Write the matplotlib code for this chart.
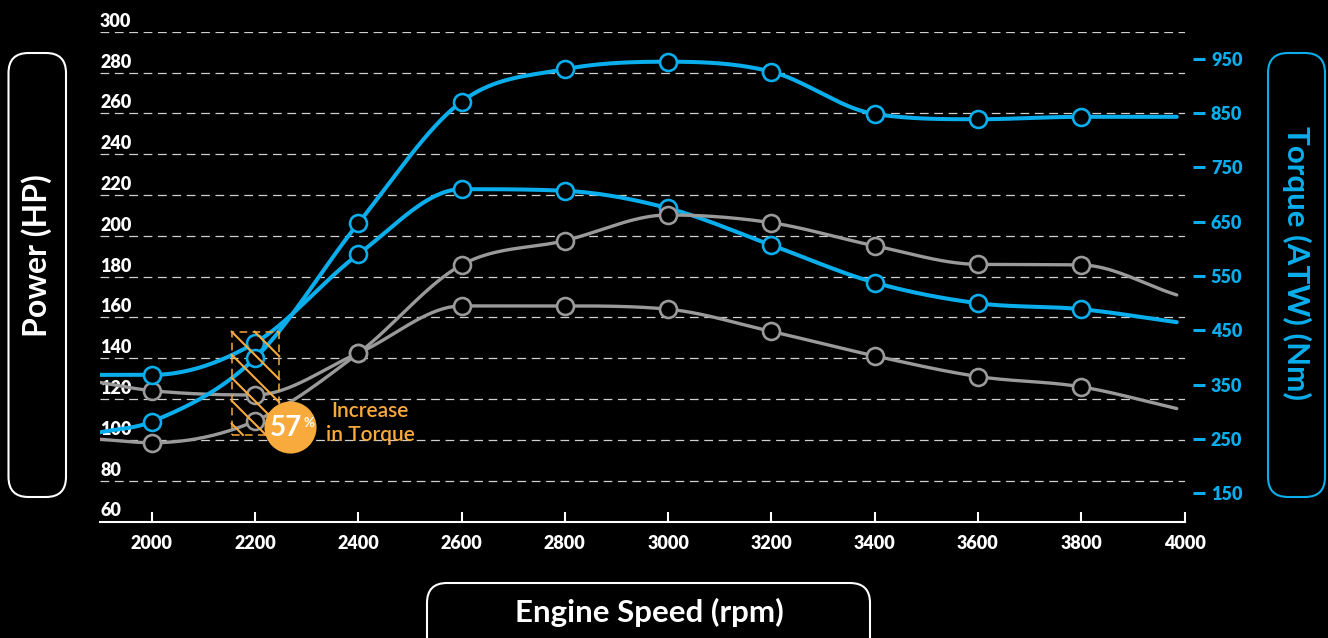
import numpy as np
import matplotlib
matplotlib.use("Agg")
import matplotlib.pyplot as plt
from matplotlib.patches import FancyBboxPatch, Rectangle
from matplotlib.lines import Line2D
from matplotlib.transforms import IdentityTransform, offset_copy, blended_transform_factory

plt.rcParams['font.family'] = ['Lato', 'DejaVu Sans']

# ---------------- data ----------------
rpm = [1900, 2000, 2200, 2400, 2600, 2800, 3000, 3200, 3400, 3600, 3800, 3985]
stock_power_hp = [100.3, 98.6, 109.2, 142.4, 185.7, 197.6, 210.2, 206.4, 195.1, 186.0, 185.7, 171.0]
tuned_power_hp = [103.7, 108.9, 140.0, 206.1, 265.7, 281.6, 285.3, 280.4, 259.7, 257.1, 258.3, 258.3]
stock_torque_nm = [354, 339, 331, 408, 495, 495, 489, 448, 403, 365, 346, 306]
tuned_torque_nm = [368, 368, 427, 590, 710, 707, 675, 607, 538, 500, 489, 465]

rpm_ticks = [2000, 2200, 2400, 2600, 2800, 3000, 3200, 3400, 3600, 3800, 4000]
hp_ticks = [60, 80, 100, 120, 140, 160, 180, 200, 220, 240, 260, 280, 300]
nm_ticks = [150, 250, 350, 450, 550, 650, 750, 850, 950]

increase_label = "57"
increase_text = "Increase\nin Torque"
highlight_rpm = (2155, 2247)
highlight_hp = (102.4, 153.0)
badge_pos = (2268, 106.4)
note_pos = (2423, 108.1)

BLUE = "#0AAEEC"
GRAY = "#9A9A9A"
ORANGE = "#F8AA3C"
WHITE = "#FFFFFF"
TICK_W = 800

W, H = 1328, 638
fig = plt.figure(figsize=(W / 100, H / 100), dpi=100, facecolor="black")


def monotone_curve(x, y, n=40):
    x = np.asarray(x, float)
    y = np.asarray(y, float)
    h = np.diff(x)
    d = np.diff(y) / h
    m = np.empty_like(y)
    m[0] = d[0]
    m[-1] = d[-1]
    m[1:-1] = np.where(d[:-1] * d[1:] <= 0, 0.0, (d[:-1] + d[1:]) / 2)
    for k in range(len(d)):
        if d[k] == 0:
            m[k] = m[k + 1] = 0.0
            continue
        a = m[k] / d[k]
        b = m[k + 1] / d[k]
        s = a * a + b * b
        if s > 9:
            t = 3 / np.sqrt(s)
            m[k] = t * a * d[k]
            m[k + 1] = t * b * d[k]
    xs, ys = [], []
    t = np.linspace(0, 1, n)
    h00 = 2 * t**3 - 3 * t**2 + 1
    h10 = t**3 - 2 * t**2 + t
    h01 = -2 * t**3 + 3 * t**2
    h11 = t**3 - t**2
    for k in range(len(h)):
        xs.append(x[k] + t * h[k])
        ys.append(h00 * y[k] + h10 * h[k] * m[k] + h01 * y[k + 1] + h11 * h[k] * m[k + 1])
    return np.concatenate(xs), np.concatenate(ys)


# axes rectangle
left_px, right_px, top_px, bottom_px = 100, 1184.5, 31.7, 521.5
rect = [left_px / W, (H - bottom_px) / H, (right_px - left_px) / W, (bottom_px - top_px) / H]

ax = fig.add_axes(rect)
ax.set_facecolor("black")
ax.set_xlim(1900, 4000)
ax.set_ylim(60, 300)
for s in ["top", "left", "right"]:
    ax.spines[s].set_visible(False)
ax.spines["bottom"].set_color(WHITE)
ax.spines["bottom"].set_linewidth(1.5)

ax.set_yticks(hp_ticks[1:])
ax.tick_params(axis="y", length=0, labelleft=False)
ax.grid(axis="y", color="#cfcfcf", lw=0.9, linestyle=(0, (7, 4.5)))
ax.grid(axis="x", visible=False)

ax.set_xticks(rpm_ticks)
ax.set_xticklabels([str(v) for v in rpm_ticks], fontweight=TICK_W, fontsize=13, color=WHITE)
ax.tick_params(axis="x", direction="in", length=7.2, width=1.5, colors=WHITE, pad=9.5)

ytrans = offset_copy(blended_transform_factory(ax.transAxes, ax.transData), fig=fig, x=0, y=5, units="dots")
for v in hp_ticks:
    ax.text(0, v, str(v), transform=ytrans, ha="left", va="baseline",
            fontsize=13, fontweight=TICK_W, color=WHITE)

# torque axis (right)
axT = ax.twinx()
axT.set_ylim(98, 1000)
for s in axT.spines.values():
    s.set_visible(False)
axT.spines["right"].set_position(("outward", 6.1))
axT.set_yticks(nm_ticks)
axT.set_yticklabels([str(v) for v in nm_ticks], fontweight=TICK_W, fontsize=13, color=BLUE)
axT.tick_params(axis="y", direction="out", length=8.6, width=2.2, colors=BLUE, pad=4.3)
axT.set_zorder(1)

# power overlay axes
axP = fig.add_axes(rect, sharex=ax, sharey=ax)
axP.axis("off")
axP.patch.set_visible(False)
axP.set_zorder(2)


def draw(axis, xs, ys, color, lw):
    xx, yy = monotone_curve(xs, ys)
    axis.plot(xx, yy, color=color, lw=lw, solid_capstyle="round", zorder=2)
    axis.plot(xs[1:-1], ys[1:-1], "o", ms=12.2, mfc="black", mec=color, mew=1.9, zorder=3)


draw(axT, rpm, stock_torque_nm, GRAY, 2.4)
draw(axT, rpm, tuned_torque_nm, BLUE, 2.9)
draw(axP, rpm, stock_power_hp, GRAY, 2.4)
draw(axP, rpm, tuned_power_hp, BLUE, 2.9)

# highlight box with hatch
hl = Rectangle((highlight_rpm[0], highlight_hp[0]), highlight_rpm[1] - highlight_rpm[0],
               highlight_hp[1] - highlight_hp[0], fill=False, ec=ORANGE, lw=1.1,
               linestyle=(0, (5, 3.5)), zorder=6)
axP.add_patch(hl)
(x0, y0) = axP.transData.transform((highlight_rpm[0], highlight_hp[0]))
(x1, y1) = axP.transData.transform((highlight_rpm[1], highlight_hp[1]))
c0 = x0 + y1
for k in range(-6, 4):
    c = c0 + k * 23
    # clip the line x + y = c to the rectangle [x0, x1] x [y0, y1]
    xa = max(x0, c - y1)
    xb = min(x1, c - y0)
    if xb - xa <= 1:
        continue
    ln = Line2D([xa, xb], [c - xa, c - xb], transform=IdentityTransform(), color=ORANGE,
                lw=1.5, zorder=6)
    axP.add_artist(ln)
    ln.set_clip_on(False)

# badge
axP.plot([badge_pos[0]], [badge_pos[1]], "o", ms=37.5, color=ORANGE, mec="none", zorder=7)
axP.text(badge_pos[0], badge_pos[1], increase_label,
         transform=offset_copy(axP.transData, fig=fig, x=-4, y=-1, units="dots"),
         ha="center", va="center", fontsize=20, fontweight="bold", color=WHITE, zorder=8)
axP.text(badge_pos[0], badge_pos[1], "%",
         transform=offset_copy(axP.transData, fig=fig, x=13, y=4, units="dots"),
         ha="left", va="center", fontsize=9.5, fontweight="bold", color=WHITE, zorder=8)
axP.text(note_pos[0], note_pos[1], increase_text, ha="center", va="center",
         multialignment="center", linespacing=1.25, fontsize=15, fontweight="semibold",
         color=ORANGE, zorder=8)


# axis title boxes (pixel coordinates)
def px_box(xa, ya, xb, yb, color):
    p = FancyBboxPatch((xa, H - yb), xb - xa, yb - ya, boxstyle="round,pad=0,rounding_size=20",
                       transform=IdentityTransform(), fill=False, ec=color, lw=1.5)
    fig.add_artist(p)


px_box(8.5, 53, 66, 497, WHITE)
px_box(1268, 53, 1325, 497, BLUE)
px_box(427, 583, 870, 690, WHITE)

fig.text(37 / W, 1 - 256 / H, "Power (HP)", rotation=90, ha="center", va="center",
         fontsize=23, fontweight="bold", color=WHITE)
fig.text(1297 / W, 1 - 263 / H, "Torque (ATW) (Nm)", rotation=-90, ha="center", va="center",
         fontsize=22.5, fontweight="bold", color=BLUE)
fig.text(649 / W, 1 - 612 / H, "Engine Speed (rpm)", ha="center", va="center",
         fontsize=22.5, fontweight="bold", color=WHITE)

fig.savefig("out.png", dpi=100, facecolor="black")
